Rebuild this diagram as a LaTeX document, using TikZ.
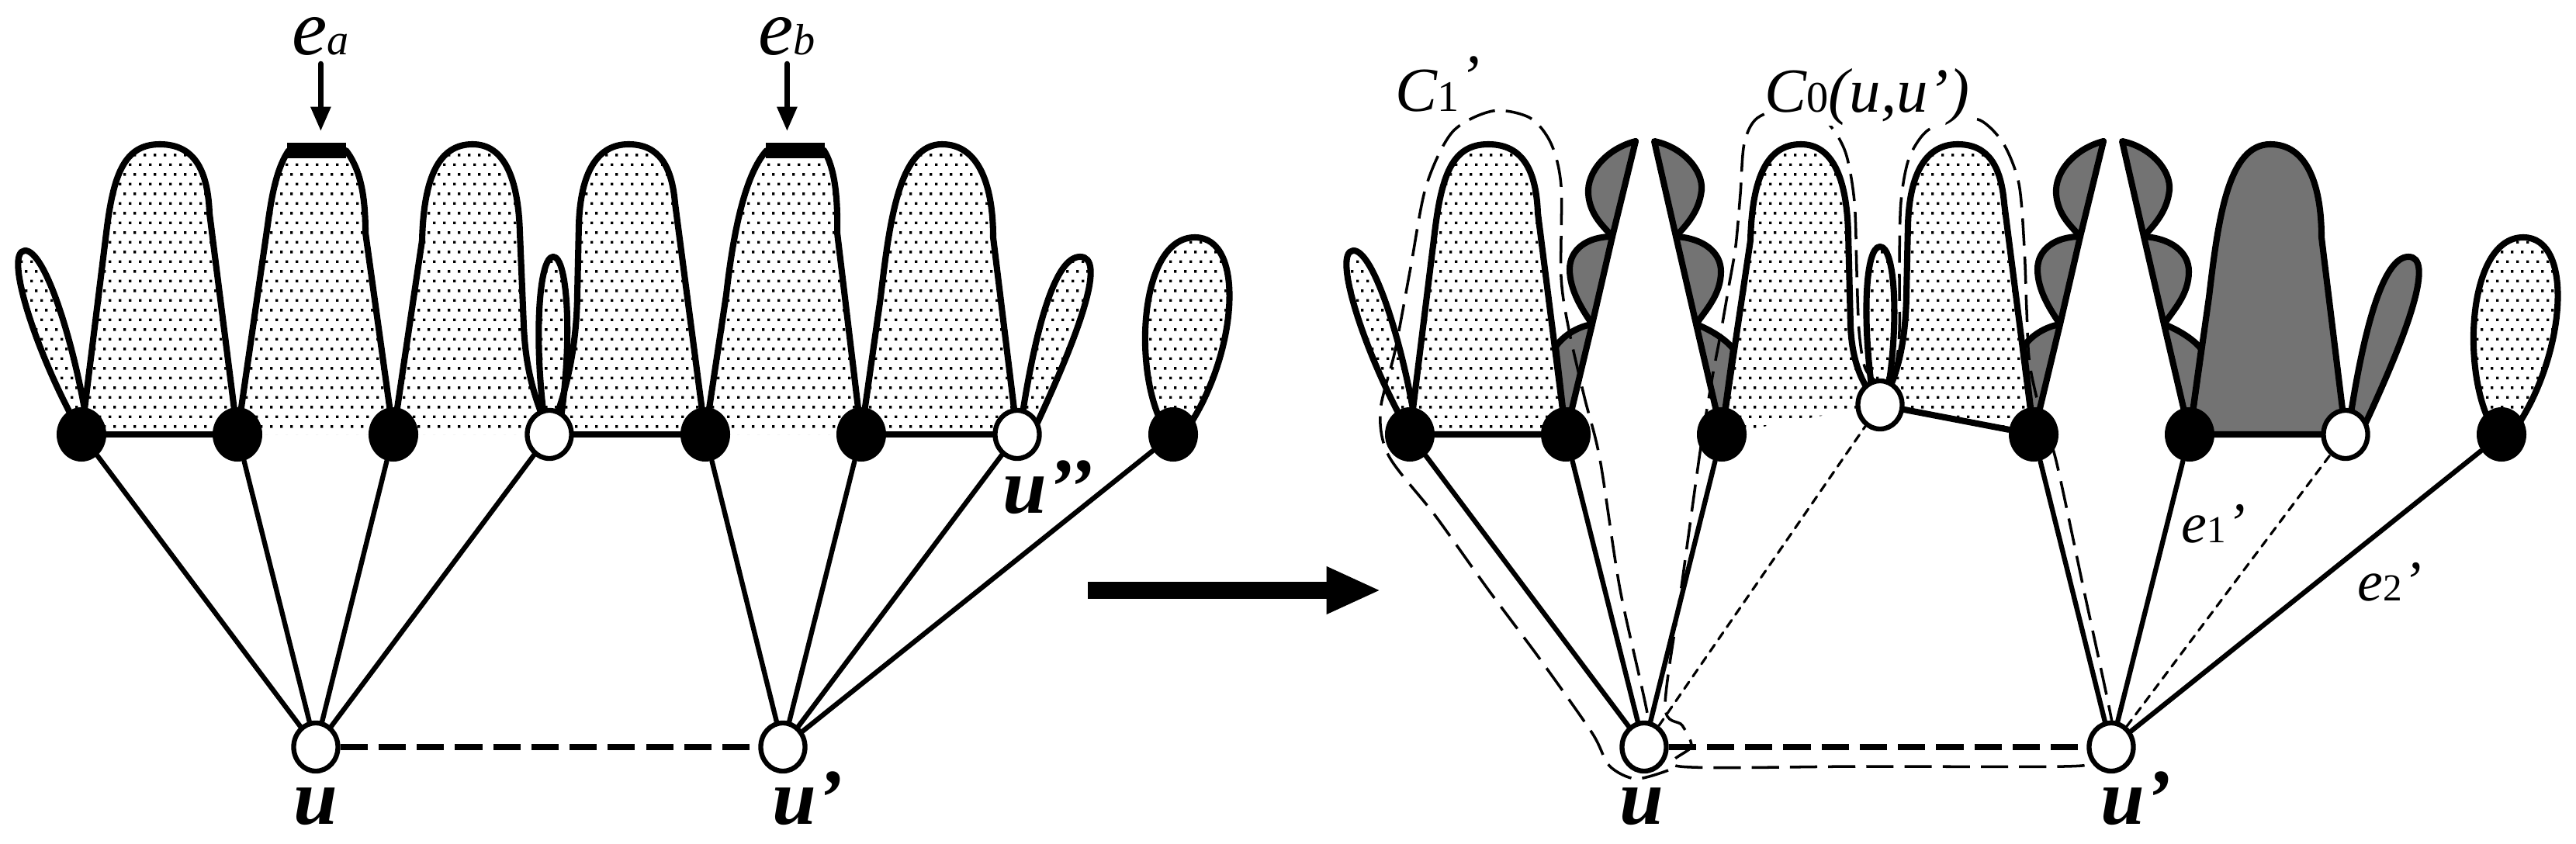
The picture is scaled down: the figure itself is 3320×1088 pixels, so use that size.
\documentclass[tikz,border=0pt]{standalone}
\usepackage{fontspec}
\setmainfont{Liberation Serif}
\usetikzlibrary{arrows.meta,patterns,shapes.geometric}
\definecolor{ShadeGray}{gray}{0.45}
\pgfdeclarepatternformonly{stagdots}{\pgfqpoint{0pt}{0pt}}{\pgfqpoint{3.6pt}{7.1pt}}{\pgfqpoint{3.6pt}{7.1pt}}{%
  \pgfpathrectangle{\pgfqpoint{0pt}{0pt}}{\pgfqpoint{0.95pt}{0.95pt}}%
  \pgfpathrectangle{\pgfqpoint{1.8pt}{3.55pt}}{\pgfqpoint{0.95pt}{0.95pt}}%
  \pgfusepath{fill}}
\tikzset{
  outline/.style={line width=2.3pt},
  bv/.style={ellipse,fill=black,inner sep=0pt,minimum width=6.4mm,minimum height=7mm},
  wv/.style={ellipse,draw,fill=white,line width=1.8pt,inner sep=0pt,minimum width=5.7mm,minimum height=6.2mm},
  spoke/.style={line width=1.8pt},
  rung/.style={line width=2.3pt},
  faint/.style={line width=0.9pt,dash pattern=on 3pt off 2.5pt},
  uu/.style={line width=2.2pt,line cap=butt,dash pattern=on 10pt off 4pt},
  cyc/.style={line width=1pt,line cap=butt,dash pattern=on 10pt off 4pt},
  bar/.style={rectangle,fill=black,inner sep=0pt,minimum width=7.6mm,minimum height=2mm},
  tip/.style={line width=2pt,shorten <=3pt,shorten >=4pt,-{Triangle[length=9pt,width=7pt]}},
  ulab/.style={anchor=base west,inner sep=0pt,font=\fontsize{29}{29}\selectfont\bfseries\itshape},
  elab/.style={anchor=base west,inner sep=0pt,text height=14pt,text depth=0pt,font=\fontsize{29}{29}\selectfont\itshape},
  clab/.style={anchor=base west,inner sep=0pt,font=\fontsize{23}{23}\selectfont\itshape},
  slab/.style={anchor=base west,inner sep=0pt,font=\fontsize{21}{21}\selectfont\itshape}
}
\newcommand{\region}[2]{\fill[#1] #2 -- cycle; \draw[outline] #2;}
\newcommand{\sm}[1]{{\fontsize{16}{16}\selectfont #1}}

\begin{document}
\begin{tikzpicture}[x=0.01cm,y=-0.01cm,line cap=round,line join=round]
  \useasboundingbox (0,0) rectangle (3320,1088);
  % left graph
  \region{pattern=stagdots}{(97,545) .. controls (45,450) and (5,325) .. (32,323) .. controls (58,322) and (95,440) .. (112,545)}
  \region{pattern=stagdots}{(105,560) -- (137,300) .. controls (146,225) and (160,186) .. (206,186) .. controls (252,186) and (268,222) .. (270,275) -- (306,560)}
  \region{pattern=stagdots}{(306,560) -- (345,290) .. controls (351,245) and (358,215) .. (372,194) -- (446,194) .. controls (462,215) and (471,245) .. (471,300) -- (507,560)}
  \region{pattern=stagdots}{(507,560) -- (544,310) .. controls (546,230) and (565,186) .. (609,186) .. controls (650,186) and (668,230) .. (670,300) -- (675,420) .. controls (678,490) and (695,525) .. (708,560)}
  \region{pattern=stagdots}{(702,545) .. controls (688,440) and (694,331) .. (713,331) .. controls (732,331) and (738,440) .. (722,545)}
  \region{pattern=stagdots}{(708,560) .. controls (725,520) and (743,460) .. (744,380) -- (746,290) .. controls (748,222) and (770,186) .. (810,186) .. controls (850,186) and (866,215) .. (870,262) -- (909,560)}
  \region{pattern=stagdots}{(909,560) -- (936,380) .. controls (945,300) and (960,225) .. (988,194) -- (1062,194) .. controls (1075,215) and (1080,250) .. (1079,300) -- (1110,560)}
  \region{pattern=stagdots}{(1110,560) -- (1135,383) .. controls (1147,280) and (1160,186) .. (1214,186) .. controls (1262,186) and (1280,240) .. (1280,306) -- (1311,560)}
  \region{pattern=stagdots}{(1316,545) .. controls (1335,420) and (1360,331) .. (1392,331) .. controls (1425,331) and (1395,420) .. (1337,545)}
  \region{pattern=stagdots}{(1497,545) .. controls (1460,470) and (1470,306) .. (1540,306) .. controls (1605,306) and (1595,450) .. (1535,545)}
  \foreach \n/\x/\s in {1/105/bv,2/306/bv,3/507/bv,4/708/wv,5/909/bv,6/1110/bv,7/1311/wv,8/1512/bv}
    \node[\s] (l\n) at (\x,560) {};
  \node[wv] (lu) at (407,963) {};
  \node[wv] (lv) at (1009,963) {};
  \foreach \n in {1,...,4} \draw[spoke] (lu) -- (l\n);
  \foreach \n in {5,...,8} \draw[spoke] (lv) -- (l\n);
  \draw[rung] (l1) -- (l2) (l4) -- (l5) (l6) -- (l7);
  \draw[uu] (lu) -- (lv);
  \node[bar] (eabar) at (408,194) {};
  \node[bar] (ebbar) at (1025,194) {};
  \node[elab] (ea) at (376,71) {e\sm{a}};
  \node[elab] (eb) at (977,71) {e\sm{b}};
  \draw[tip] (ea) -- (ea |- eabar.north);
  \draw[tip] (eb) -- (eb |- ebbar.north);
  \node[ulab] (lulab) at (378,1062) {u};
  \node[ulab] (lvlab) at (995,1062) {u’};
  \node[ulab] (lwlab) at (1292,661) {u’’};
  % arrow
  \coordinate (bigS) at (1402,761);
  \coordinate (bigE) at (1780,761);
  \draw[line width=6.5pt,line cap=butt,-{Triangle[length=20pt,width=16pt]}] (bigS) -- (bigE);
  % right graph
  \begin{scope}[shift={(1712,0)}]
    \region{pattern=stagdots}{(97,545) .. controls (45,450) and (5,325) .. (32,323) .. controls (58,322) and (95,440) .. (112,545)}
    \region{pattern=stagdots}{(105,560) -- (137,300) .. controls (146,225) and (160,186) .. (206,186) .. controls (252,186) and (268,222) .. (270,275) -- (306,560)}
    \region{pattern=stagdots}{(507,560) -- (544,310) .. controls (546,230) and (565,186) .. (609,186) .. controls (650,186) and (668,230) .. (670,300) -- (673,420) .. controls (675,470) and (690,500) .. (711,522)}
    \region{pattern=stagdots}{(701,505) .. controls (688,410) and (692,318) .. (711,318) .. controls (730,318) and (736,410) .. (721,505)}
    \region{pattern=stagdots}{(711,522) .. controls (730,495) and (744,450) .. (745,380) -- (747,290) .. controls (749,222) and (771,186) .. (811,186) .. controls (851,186) and (867,215) .. (871,262) -- (909,560)}
    \region{fill=ShadeGray}{(1110,560) -- (1135,383) .. controls (1147,280) and (1160,186) .. (1214,186) .. controls (1262,186) and (1280,240) .. (1280,306) -- (1311,560)}
    \region{fill=ShadeGray}{(1316,545) .. controls (1335,420) and (1360,331) .. (1392,331) .. controls (1425,331) and (1395,420) .. (1337,545)}
    \region{pattern=stagdots}{(1497,545) .. controls (1460,470) and (1470,306) .. (1540,306) .. controls (1605,306) and (1595,450) .. (1535,545)}
    \foreach \dx in {0,603}{
      \begin{scope}[shift={(\dx,0)},outline,fill=ShadeGray]
        \filldraw (396,182) .. controls (358,192) and (333,222) .. (335,250) .. controls (337,278) and (356,293) .. (366,305) -- cycle;
        \filldraw (366,305) .. controls (333,305) and (311,322) .. (311,347) .. controls (311,375) and (328,400) .. (340,418) -- cycle;
        \filldraw (340,418) .. controls (322,421) and (303,432) .. (293,447) -- (306,560) -- cycle;
        \filldraw (420,182) .. controls (458,190) and (483,220) .. (481,245) .. controls (478,275) and (458,293) .. (448,305) -- cycle;
        \filldraw (448,305) .. controls (483,307) and (506,325) .. (506,350) .. controls (506,380) and (486,400) .. (474,418) -- cycle;
        \filldraw (474,418) .. controls (492,425) and (512,437) .. (522,450) -- (507,560) -- cycle;
      \end{scope}
    }
  \end{scope}
  \draw[cyc] plot[smooth,tension=0.5] coordinates {(2150,993) (2108,1004) (2074,987) (2052,945) (1985,850) (1918,760)
    (1850,665) (1790,588) (1779,530) (1798,452) (1818,345) (1838,240) (1872,170) (1924,143) (1972,152) (1999,185)
    (2012,240) (2012,357) (2022,425) (2042,512) (2062,592) (2088,760) (2124,925) (2120,963)};
  \draw[cyc] plot[smooth cycle,tension=0.5] coordinates {(2146,910) (2167,757) (2190,590) (2200,527) (2208,480) (2217,433)
    (2228,370) (2237,317) (2243,250) (2248,185) (2265,152) (2310,138) (2352,155) (2378,195) (2390,260) (2393,350)
    (2396,427) (2404,475) (2423,493) (2442,475) (2448,427) (2448,340) (2450,260) (2460,205) (2482,170) (2516,155)
    (2552,155) (2582,185) (2602,237) (2609,320) (2612,400) (2616,470) (2632,540) (2650,594) (2686,762) (2722,931)
    (2722,963) (2694,982) (2660,988) (2400,988) (2165,988) (2180,962) (2168,935)};
  \begin{scope}[shift={(1712,0)}]
    \foreach \n/\x/\y/\s in {1/105/560/bv,2/306/560/bv,3/507/560/bv,4/711/522/wv,5/909/560/bv,6/1110/560/bv,7/1311/560/wv,8/1512/560/bv}
      \node[\s] (r\n) at (\x,\y) {};
    \node[wv] (ru) at (407,963) {};
    \node[wv] (rv) at (1009,963) {};
  \end{scope}
  \foreach \n in {1,2,3} \draw[spoke] (ru) -- (r\n);
  \draw[faint] (ru) -- (r4);
  \draw[spoke] (rv) -- (r5) (rv) -- (r6) (rv) -- (r8);
  \draw[faint] (rv) -- (r7);
  \draw[rung] (r1) -- (r2) (r4) -- (r5) (r6) -- (r7);
  \draw[uu] (ru) -- (rv);
  \node[ulab] (rulab) at (2087,1062) {u};
  \node[ulab] (rvlab) at (2707,1062) {u’};
  \node[clab] (c1lab) at (1798,144) {C\sm{\upshape 1}\raisebox{5pt}{’}};
  \node[clab,fill=white] (c0lab) at (2274,145) {C\sm{\upshape 0}(u,u’)};
  \node[slab] (e1lab) at (2811,699) {e{\upshape\fontsize{14}{14}\selectfont 1}’};
  \node[slab] (e2lab) at (3038,774) {e{\upshape\fontsize{14}{14}\selectfont 2}’};
\end{tikzpicture}
\end{document}
